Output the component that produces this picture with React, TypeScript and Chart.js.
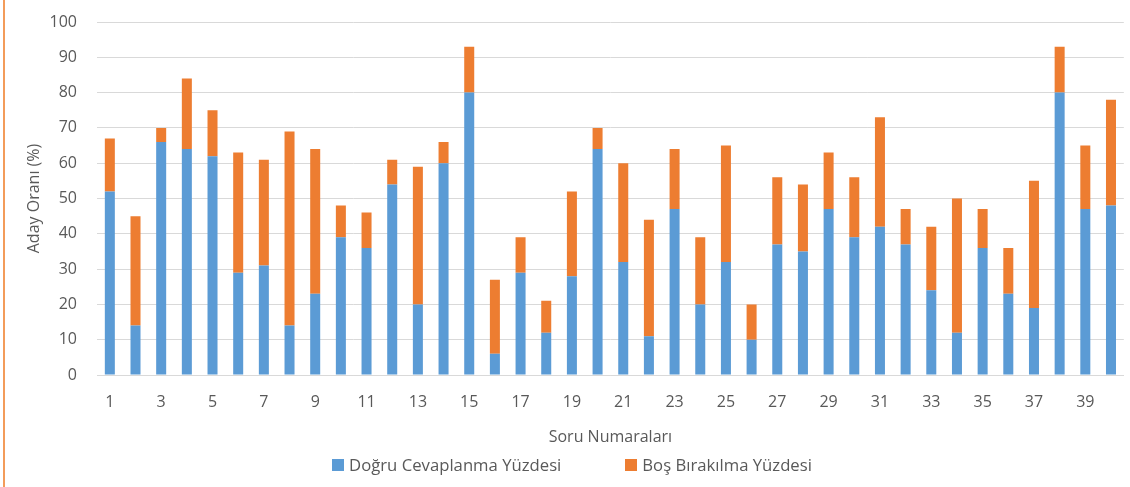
import React, { useEffect, useRef } from 'react';
import { Chart, registerables } from 'chart.js';

Chart.register(...registerables);

const categories = ['1','2','3','4','5','6','7','8','9','10','11','12','13','14','15','16','17','18','19','20','21','22','23','24','25','26','27','28','29','30','31','32','33','34','35','36','37','38','39','40'];
const dogruValues = [52,14,66,64,62,29,31,14,23,39,36,54,20,60,80,6,29,12,28,64,32,11,47,20,32,10,37,35,47,39,42,37,24,12,36,23,19,80,47,48];
const bosValues = [15,31,4,20,13,34,30,55,41,9,10,7,39,6,13,21,10,9,24,6,28,33,17,19,33,10,19,19,16,17,31,10,18,38,11,13,36,13,18,30];
const seriesNames = ['Doğru Cevaplanma Yüzdesi', 'Boş Bırakılma Yüzdesi'];
const seriesColors = ['#5B9BD5', '#ED7D31'];
const xTitle = 'Soru Numaraları';
const yTitle = 'Aday Oranı (%)';

const FONT = "'Open Sans', sans-serif";
const TEXT = '#595959';

export default function App() {
  const ref = useRef<HTMLCanvasElement | null>(null);
  useEffect(() => {
    if (!ref.current) return;
    const chart = new Chart(ref.current, {
      type: 'bar',
      data: {
        labels: categories,
        datasets: [
          { label: seriesNames[0], data: dogruValues, backgroundColor: seriesColors[0], borderWidth: 0, categoryPercentage: 1, barPercentage: 0.39 },
          { label: seriesNames[1], data: bosValues, backgroundColor: seriesColors[1], borderWidth: 0, categoryPercentage: 1, barPercentage: 0.39 },
        ],
      },
      options: {
        responsive: false,
        animation: false,
        devicePixelRatio: 1,
        layout: { padding: { left: 21, right: 1, top: 22, bottom: 38 } },
        plugins: { legend: { display: false }, tooltip: { enabled: false } },
        scales: {
          x: {
            stacked: true,
            grid: { display: false, drawTicks: false },
            border: { display: true, color: '#D9D9D9', width: 1 },
            ticks: {
              autoSkip: false,
              maxRotation: 0,
              minRotation: 0,
              padding: 19,
              color: TEXT,
              font: { family: FONT, size: 16, lineHeight: 1 },
              callback: (_v: any, i: number) => (i % 2 === 0 ? categories[i] : ''),
            },
            title: { display: true, text: xTitle, color: TEXT, font: { family: FONT, size: 16, lineHeight: 1 }, padding: { top: 0, bottom: 4 } },
          },
          y: {
            stacked: true,
            min: 0,
            max: 100,
            grid: { color: '#D9D9D9', lineWidth: 1, drawTicks: false },
            border: { display: false },
            ticks: { stepSize: 10, padding: 20, color: TEXT, font: { family: FONT, size: 16, lineHeight: 0.1 } },
            title: { display: true, text: yTitle, color: TEXT, font: { family: FONT, size: 16 } },
            afterFit: (s: any) => { s.width = 76; },
          },
        },
      },
    });
    return () => chart.destroy();
  }, []);

  return (
    <div style={{ position: 'absolute', left: 0, top: 0, width: 1130, height: 487, background: '#fff', overflow: 'hidden' }}>
      <div style={{ position: 'absolute', left: 3, top: 0, width: 2, height: 487, background: '#F39C5A' }} />
      <canvas ref={ref} width={1130} height={487} style={{ position: 'absolute', left: 0, top: 0, width: 1130, height: 487 }} />
      <div style={{ position: 'absolute', left: 0, width: 1144, top: 454, height: 22, display: 'flex', justifyContent: 'center', alignItems: 'center', gap: 64, fontFamily: FONT, fontSize: 16.7, color: TEXT, lineHeight: '22px' }}>
        {seriesNames.map((n, i) => (
          <div key={n} style={{ display: 'flex', alignItems: 'center' }}>
            <span style={{ display: 'inline-block', width: 12, height: 12, background: seriesColors[i], marginRight: 5 }} />
            <span>{n}</span>
          </div>
        ))}
      </div>
    </div>
  );
}
